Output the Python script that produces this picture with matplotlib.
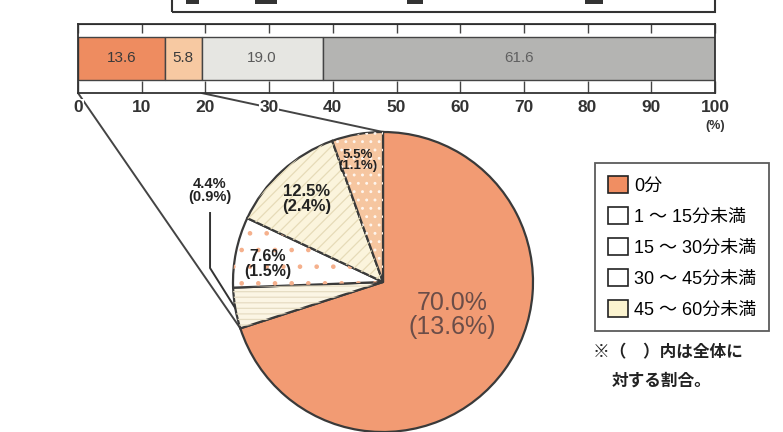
import numpy as np
import matplotlib
matplotlib.use('Agg')
import matplotlib.pyplot as plt
from matplotlib.patches import Patch, Rectangle, ConnectionPatch

plt.rcParams['font.family'] = ['Liberation Sans', 'Noto Sans CJK JP', 'DejaVu Sans']
plt.rcParams['hatch.linewidth'] = 0.9

# bar: whole sample (%)
bar_values = [13.6, 5.8, 19.0, 61.6]
bar_colors = ['#ee8c60', '#f7c9a2', '#e6e6e2', '#b4b4b2']
bar_text_colors = ['#3a3a3a', '#3a3a3a', '#5a5a5a', '#606060']
xticks = list(range(0, 101, 10))

# pie: breakdown of the first two bar segments
pie_labels = ['0分', '1 ～ 15分未満', '15 ～ 30分未満', '30 ～ 45分未満', '45 ～ 60分未満']
pie_share = [70.0, 4.4, 7.6, 12.5, 5.5]
pie_total = [13.6, 0.9, 1.5, 2.4, 1.1]
pie_colors = ['#f29b73', '#fbf5e4', '#ffffff', '#fbf4dc', '#f6c6a0']
pie_hatch = [None, '---', '.', '///', '..']
pie_hatch_colors = ['none', '#e6dcc2', '#f5b08c', '#e6dbb8', '#fff6ee']
legend_colors = ['#f08e62', '#ffffff', '#ffffff', '#ffffff', '#fbf3cf']

W, H = 783, 432
fig = plt.figure(figsize=(W / 100, H / 100), dpi=100)

# --- cropped legend box at the very top
fig.add_artist(Rectangle((172 / W, 1 - 12 / H), (715 - 172) / W, 20 / H,
                         transform=fig.transFigure, fill=False, ec='#333333', lw=1.5))
for x0, x1 in [(186, 199), (255, 277), (407, 423), (585, 603)]:
    fig.add_artist(Rectangle((x0 / W, 1 - 4 / H), (x1 - x0) / W, 6 / H,
                             transform=fig.transFigure, fc='#333333', ec='none'))

# --- stacked bar
bx = fig.add_axes([78 / W, 1 - 93 / H, (715 - 78) / W, 69 / H])
left = 0
for v, c, tc in zip(bar_values, bar_colors, bar_text_colors):
    bx.barh(0, v, left=left, height=1.246, color=c, edgecolor='#444444', lw=1.0)
    bx.text(left + v / 2, 0, f'{v:.1f}', ha='center', va='center', fontsize=11, color=tc)
    left += v
bx.set_xlim(0, 100)
bx.set_ylim(-1, 1)
bx.set_yticks([])
bx.set_xticks(xticks)
bx.set_xticklabels([str(t) for t in xticks], fontsize=12.5, fontweight='bold', color='#333333',
                   bbox=dict(fc='white', ec='none', pad=0.5))
bx.tick_params(axis='x', direction='in', length=9, width=1.0, color='#444444', pad=5)
for s in bx.spines.values():
    s.set_color('#333333')
    s.set_linewidth(1.3)
top = bx.secondary_xaxis('top')
top.set_xticks(xticks)
top.tick_params(direction='in', length=6.5, width=1.0, color='#444444', labeltop=False)
bx.text(100, -1.95, '(%)', ha='center', va='center', fontsize=9, fontweight='bold',
        color='#333333', transform=bx.transData)

# --- pie
px = fig.add_axes([(383 - 153) / W, (H - 282 - 153) / H, 306 / W, 306 / H])
px.patch.set_visible(False)
wedges, _ = px.pie(pie_share, colors=pie_colors, startangle=90, counterclock=False, radius=1,
                   wedgeprops=dict(edgecolor='#3a3a3a', lw=1.6))
px.pie(pie_share, colors=['none'] * 5, startangle=90, counterclock=False, radius=1,
       wedgeprops=dict(lw=0))
for w, h, hc in zip(px.patches[5:], pie_hatch, pie_hatch_colors):
    if h:
        w.set_hatch(h)
        w.set_edgecolor(hc)
px.set_xlim(-1.02, 1.02)
px.set_ylim(-1.02, 1.02)
px.set_aspect('equal')
px.axis('off')

# boundaries (math angles) of the slices
cum = np.concatenate([[0], np.cumsum(pie_share)]) / 100.0
ang = np.deg2rad(90 - 360 * cum)

# connectors from bar to pie
for xb, a in [(0, ang[1]), (bar_values[0] + bar_values[1], ang[0])]:
    con = ConnectionPatch(xyA=(xb, -1), coordsA=bx.transData,
                          xyB=(np.cos(a), np.sin(a)), coordsB=px.transData,
                          color='#444444', lw=1.4, zorder=-1)
    fig.add_artist(con)

# labels in the pie
px.text(0.46, -0.22, f'{pie_share[0]:.1f}%\n({pie_total[0]:.1f}%)', ha='center', va='center',
        fontsize=18, color='#6b4d48', linespacing=1.05)
lab_pos = {2: (-0.77, 0.12, 11.5), 3: (-0.51, 0.55, 12), 4: (-0.17, 0.81, 9.5)}
for i, (x, y, fs) in lab_pos.items():
    px.text(x, y, f'{pie_share[i]:.1f}%\n({pie_total[i]:.1f}%)', ha='center', va='center',
            fontsize=fs, fontweight='bold', color='#222222', linespacing=1.0)
# 4.4% outside with leader
px.text(-1.153, 0.61, f'{pie_share[1]:.1f}%\n({pie_total[1]:.1f}%)', ha='center', va='center',
        fontsize=10.5, fontweight='bold', color='#222222', linespacing=1.0, clip_on=False)
mid = (ang[1] + ang[2]) / 2
px.plot([-1.153, -1.153, np.cos(mid)], [0.46, 0.093, np.sin(mid)], color='#333333', lw=1.4,
        clip_on=False)

# legend
handles = [Patch(fc=c, ec='#222222', lw=1.2) for c in legend_colors]
leg = fig.legend(handles, pie_labels, loc='upper left', bbox_to_anchor=(595 / W, 1 - 163 / H),
                 frameon=True, fancybox=False, edgecolor='#333333', fontsize=13,
                 handlelength=1.1, handleheight=1.1, handletextpad=0.35, labelspacing=0.68,
                 borderpad=0.7, borderaxespad=0)
leg.get_frame().set_linewidth(1.3)

fig.text(593 / W, 1 - 352 / H, '※（　）内は全体に', fontsize=12, fontweight='bold',
         va='center', ha='left', color='#222222')
fig.text(612 / W, 1 - 381 / H, '対する割合。', fontsize=12, fontweight='bold',
         va='center', ha='left', color='#222222')

fig.savefig('out.png', dpi=100)
